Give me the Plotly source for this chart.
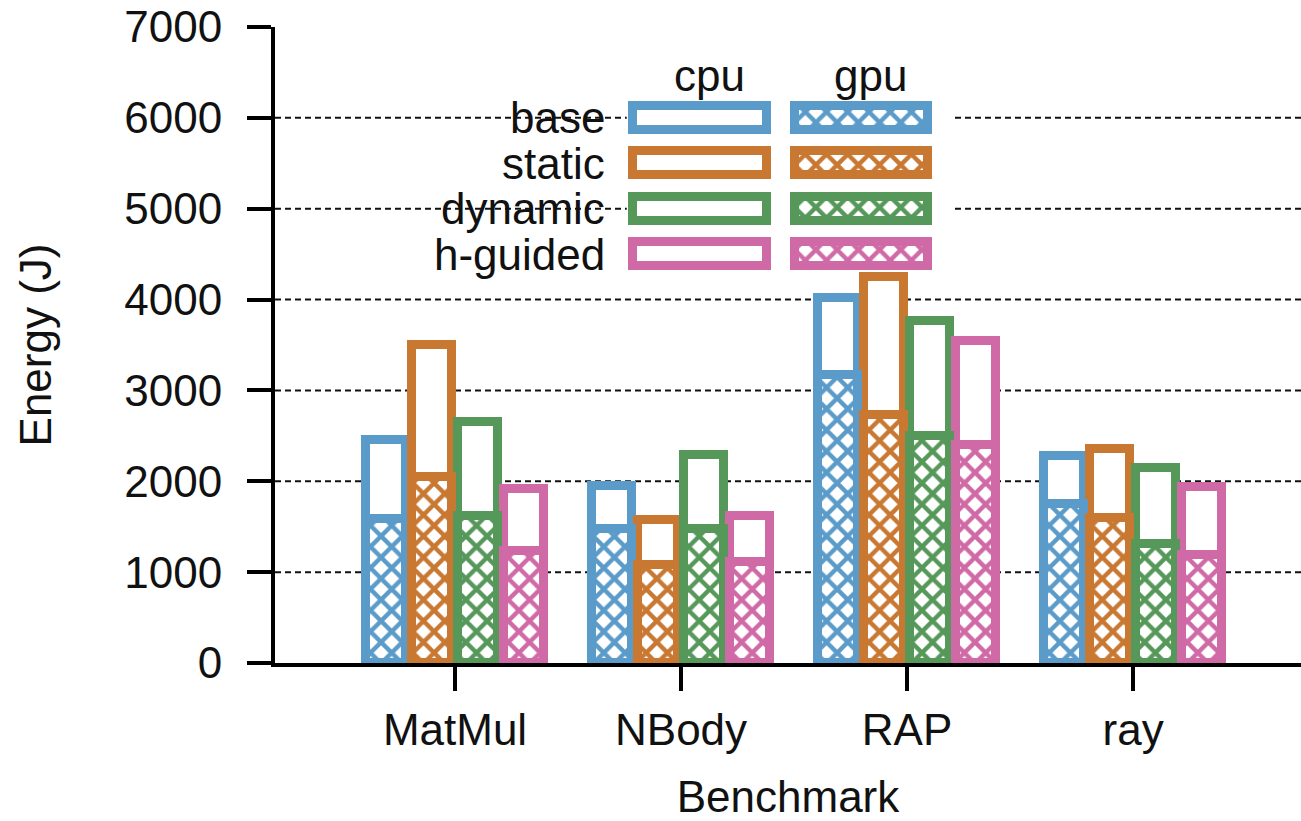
import plotly.graph_objects as go

# ---- data -----------------------------------------------------------------
BENCHMARKS = ["MatMul", "NBody", "RAP", "ray"]
METHODS = ["base", "static", "dynamic", "h-guided"]

# energy (J) attributed to the GPU device
GPU_BASE = [1590, 1470, 3170, 1750]
GPU_STATIC = [2050, 1080, 2730, 1600]
GPU_DYNAMIC = [1620, 1470, 2500, 1310]
GPU_HGUIDED = [1230, 1110, 2400, 1190]

# energy (J) attributed to the CPU device (stacked on top of the GPU part)
CPU_BASE = [860, 480, 850, 530]
CPU_STATIC = [1450, 490, 1520, 750]
CPU_DYNAMIC = [1030, 820, 1260, 840]
CPU_HGUIDED = [690, 510, 1140, 750]

Y_TICKS = [0, 1000, 2000, 3000, 4000, 5000, 6000, 7000]
GRID_VALUES = [1000, 2000, 3000, 4000, 5000, 6000]

# ---- style ----------------------------------------------------------------
COLORS = ["#5b9bc9", "#c97832", "#56985a", "#d06aa7"]
FONT = "Liberation Sans, Arial, Helvetica, sans-serif"
FS = 44
EDGE = 9
BAR_W = 0.175
PITCH = 0.2035
X_RANGE = [-0.7965, 3.743]
Y_RANGE = [0, 7000]

gpu = [GPU_BASE, GPU_STATIC, GPU_DYNAMIC, GPU_HGUIDED]
cpu = [CPU_BASE, CPU_STATIC, CPU_DYNAMIC, CPU_HGUIDED]


def hatch(color):
    return dict(shape="x", fgcolor=color, bgcolor="white", size=15,
                solidity=0.5, fillmode="replace")


fig = go.Figure()

# hollow CPU segments first, hatched GPU segments drawn over them
for i, name in enumerate(METHODS):
    fig.add_trace(go.Bar(
        x=BENCHMARKS, y=cpu[i], base=gpu[i], name=f"{name} cpu",
        width=BAR_W, offset=(i - 1.5) * PITCH - BAR_W / 2,
        marker=dict(color="white", line=dict(color=COLORS[i], width=EDGE)),
        showlegend=False, hoverinfo="skip"))
for i, name in enumerate(METHODS):
    fig.add_trace(go.Bar(
        x=BENCHMARKS, y=gpu[i], name=f"{name} gpu",
        width=BAR_W, offset=(i - 1.5) * PITCH - BAR_W / 2,
        marker=dict(color="white", line=dict(color=COLORS[i], width=EDGE),
                    pattern=hatch(COLORS[i])),
        showlegend=False, hoverinfo="skip"))

# ---- key: method rows with a cpu swatch and a gpu swatch -------------------
KEY_ROWS = [6000, 5500, 5000, 4500]
KEY_THICK = 264
KEY_CPU = (0.788, 0.593)
KEY_GPU = (1.504, 0.589)
for i, name in enumerate(METHODS):
    fig.add_trace(go.Bar(
        orientation="h", y=[KEY_ROWS[i]], x=[KEY_CPU[1]], base=[KEY_CPU[0]],
        width=[KEY_THICK], xaxis="x2", yaxis="y2",
        marker=dict(color="white", line=dict(color=COLORS[i], width=EDGE)),
        showlegend=False, hoverinfo="skip"))
    fig.add_trace(go.Bar(
        orientation="h", y=[KEY_ROWS[i]], x=[KEY_GPU[1]], base=[KEY_GPU[0]],
        width=[KEY_THICK], xaxis="x2", yaxis="y2",
        marker=dict(color="white", line=dict(color=COLORS[i], width=EDGE),
                    pattern=hatch(COLORS[i])),
        showlegend=False, hoverinfo="skip"))

shapes = []
for v in GRID_VALUES:
    shapes.append(dict(type="line", xref="x domain", yref="y", x0=0, x1=1,
                       y0=v, y1=v, layer="below",
                       line=dict(color="#111", width=2, dash="6px,4px")))
# opaque key background hides the grid behind the swatches
shapes.append(dict(type="rect", xref="x", yref="y", x0=0.76, x1=2.2,
                   y0=4300, y1=6300, layer="below",
                   fillcolor="white", line=dict(width=0)))

annotations = []
for i, name in enumerate(METHODS):
    annotations.append(dict(text=name, x=0.672, y=KEY_ROWS[i], xref="x",
                            yref="y", xanchor="right", yanchor="middle",
                            showarrow=False,
                            font=dict(family=FONT, size=FS, color="#111")))
annotations.append(dict(text="cpu", x=1.128, y=6470, xref="x", yref="y",
                        xanchor="center", yanchor="middle", showarrow=False,
                        font=dict(family=FONT, size=FS, color="#111")))
annotations.append(dict(text="gpu", x=1.84, y=6470, xref="x", yref="y",
                        xanchor="center", yanchor="middle", showarrow=False,
                        font=dict(family=FONT, size=FS, color="#111")))

fig.update_layout(
    width=1301, height=821,
    margin=dict(l=275, r=0, t=27, b=158),
    paper_bgcolor="white", plot_bgcolor="white",
    barmode="overlay", bargap=0,
    font=dict(family=FONT, size=FS, color="#111"),
    shapes=shapes, annotations=annotations,
    xaxis=dict(
        type="category", range=X_RANGE, showgrid=False, zeroline=False,
        showline=True, linecolor="black", linewidth=4,
        ticks="outside", ticklen=24, tickwidth=4, tickcolor="black",
        ticklabelstandoff=1,
        title=dict(text="Benchmark", standoff=32,
                   font=dict(family=FONT, size=FS, color="#111"))),
    yaxis=dict(
        range=Y_RANGE, tickvals=Y_TICKS, showgrid=False, zeroline=False,
        showline=True, linecolor="black", linewidth=4,
        ticks="outside", ticklen=24, tickwidth=4, tickcolor="black",
        ticklabelstandoff=16,
        title=dict(text="Energy (J)", standoff=60,
                   font=dict(family=FONT, size=FS, color="#111"))),
    xaxis2=dict(overlaying="x", range=X_RANGE, visible=False, type="linear"),
    yaxis2=dict(overlaying="y", range=Y_RANGE, visible=False),
)

fig.write_html("out.html")
